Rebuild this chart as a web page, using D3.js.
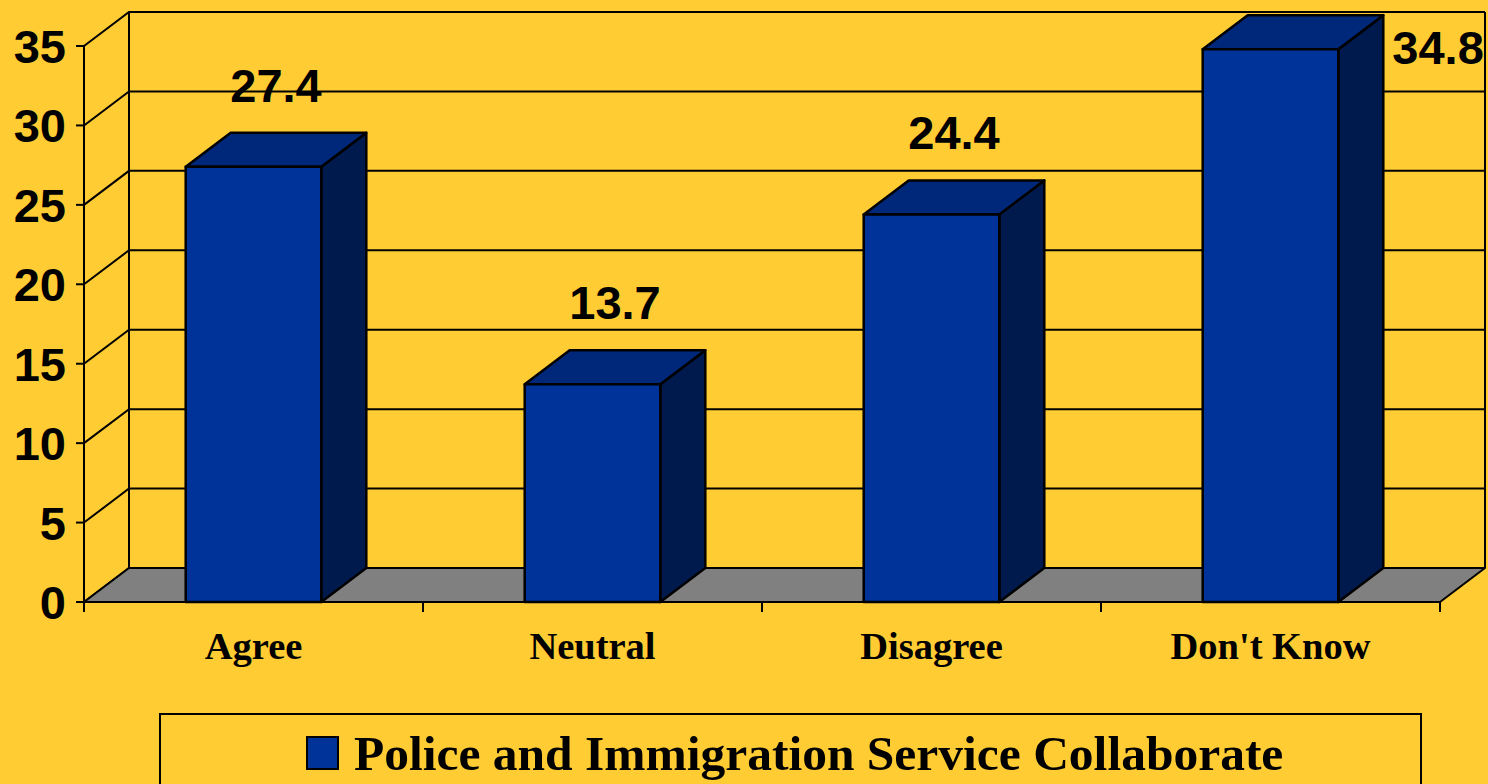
<!DOCTYPE html>
<html>
<head>
<meta charset="utf-8">
<script src="https://d3js.org/d3.v7.min.js"></script>
<style>
  html, body { margin: 0; padding: 0; background: #ffcc33; overflow: hidden; }
  svg { display: block; }
</style>
</head>
<body>
<script>
    const categories = ['Agree', 'Neutral', 'Disagree', "Don't Know"];
    const values = [27.4, 13.7, 24.4, 34.8];
    const yTicks = [0, 5, 10, 15, 20, 25, 30, 35];
    const seriesName = 'Police and Immigration Service Collaborate';

    const width = 1488, height = 784;
    const DX = 45, DY = -34;   // 3d depth offset

    const svg = d3.select('body').append('svg')
        .attr('width', width)
        .attr('height', height);

    svg.append('rect').attr('width', width).attr('height', height).attr('fill', '#ffcc33');

    const x = d3.scaleBand()
        .domain(categories)
        .range([84, 1440])
        .paddingInner(0.6)
        .paddingOuter(0.3);

    const y = d3.scaleLinear().domain([0, 35]).range([602, 46]);

    const x0 = x.range()[0], x1 = x.range()[1];
    const line = d3.line();

    // walls: grid lines on back wall + diagonals on left wall
    const walls = svg.append('g').attr('stroke', '#000').attr('stroke-width', 2).attr('fill', 'none');
    yTicks.forEach(t => {
        walls.append('path').attr('d', line([[x0, y(t)], [x0 + DX, y(t) + DY], [x1 + DX, y(t) + DY]]));
    });
    walls.append('path').attr('d', line([[x0 + DX, y(35) + DY], [x0 + DX, y(0) + DY]]));
    walls.append('path').attr('d', line([[x1 + DX, y(35) + DY], [x1 + DX, y(0) + DY]]));

    // floor
    svg.append('path')
        .attr('d', line([[x0, y(0)], [x1, y(0)], [x1 + DX, y(0) + DY], [x0 + DX, y(0) + DY]]) + 'Z')
        .attr('fill', '#808080')
        .attr('stroke', '#000')
        .attr('stroke-width', 2)
        .attr('stroke-linejoin', 'round');

    // y axis
    const yAxis = svg.append('g').attr('stroke', '#000').attr('stroke-width', 2);
    yAxis.append('line').attr('x1', x0).attr('x2', x0).attr('y1', y(35)).attr('y2', y(0));
    yAxis.selectAll('.tick')
        .data(yTicks)
        .join('line')
        .attr('x1', x0 - 8).attr('x2', x0)
        .attr('y1', d => y(d)).attr('y2', d => y(d));

    svg.append('g')
        .selectAll('text')
        .data(yTicks)
        .join('text')
        .attr('x', 66)
        .attr('y', d => y(d) + 17)
        .attr('text-anchor', 'end')
        .attr('font-family', '"Liberation Sans", Arial, sans-serif')
        .attr('font-weight', 'bold')
        .attr('font-size', 47)
        .attr('fill', '#000')
        .text(d => d);

    // x ticks
    const step = x.step();
    const xTickPos = d3.range(categories.length + 1).map(i => x0 + i * step);
    svg.append('g')
        .selectAll('line')
        .data(xTickPos)
        .join('line')
        .attr('x1', d => d).attr('x2', d => d)
        .attr('y1', y(0)).attr('y2', y(0) + 10)
        .attr('stroke', '#000')
        .attr('stroke-width', 2);

    // bars
    const data = categories.map((c, i) => ({ c, v: values[i] }));
    const bars = svg.append('g')
        .selectAll('g')
        .data(data)
        .join('g')
        .attr('stroke', '#000')
        .attr('stroke-width', 2.5)
        .attr('stroke-linejoin', 'round');

    bars.append('path') // side
        .attr('fill', '#001a4d')
        .attr('d', d => {
            const r = x(d.c) + x.bandwidth();
            return line([[r, y(d.v)], [r + DX, y(d.v) + DY], [r + DX, y(0) + DY], [r, y(0)]]) + 'Z';
        });
    bars.append('path') // top
        .attr('fill', '#00287a')
        .attr('d', d => {
            const l = x(d.c), r = l + x.bandwidth();
            return line([[l, y(d.v)], [l + DX, y(d.v) + DY], [r + DX, y(d.v) + DY], [r, y(d.v)]]) + 'Z';
        });
    bars.append('rect') // front
        .attr('fill', '#003399')
        .attr('x', d => x(d.c))
        .attr('y', d => y(d.v))
        .attr('width', x.bandwidth())
        .attr('height', d => y(0) - y(d.v));

    // value labels
    svg.append('g')
        .selectAll('text')
        .data(data)
        .join('text')
        .each(function (d) {
            const t = d3.select(this);
            const base = y(d.v) + DY - 31;
            if (base < 40) {
                t.attr('x', x(d.c) + x.bandwidth() + DX + 9)
                 .attr('y', y(d.v) + 15)
                 .attr('text-anchor', 'start');
            } else {
                t.attr('x', x(d.c) + x.bandwidth() / 2 + DX / 2)
                 .attr('y', base)
                 .attr('text-anchor', 'middle');
            }
        })
        .attr('font-family', '"Liberation Sans", Arial, sans-serif')
        .attr('font-weight', 'bold')
        .attr('font-size', 47)
        .attr('fill', '#000')
        .text(d => d.v.toFixed(1));

    // category labels
    svg.append('g')
        .selectAll('text')
        .data(categories)
        .join('text')
        .attr('x', d => x(d) + x.bandwidth() / 2)
        .attr('y', 659)
        .attr('text-anchor', 'middle')
        .attr('font-family', '"Liberation Serif", "Times New Roman", serif')
        .attr('font-weight', 'bold')
        .attr('font-size', 38.5)
        .attr('fill', '#000')
        .text(d => d);

    // legend
    const legend = svg.append('g');
    legend.append('rect')
        .attr('x', 160).attr('y', 714)
        .attr('width', 1261).attr('height', 120)
        .attr('fill', 'none')
        .attr('stroke', '#000')
        .attr('stroke-width', 2);
    legend.append('rect')
        .attr('x', 307).attr('y', 737)
        .attr('width', 31).attr('height', 32)
        .attr('fill', '#003399')
        .attr('stroke', '#000')
        .attr('stroke-width', 2);
    legend.append('text')
        .attr('x', 354).attr('y', 770)
        .attr('font-family', '"Liberation Serif", "Times New Roman", serif')
        .attr('font-weight', 'bold')
        .attr('font-size', 49.5)
        .attr('fill', '#000')
        .text(seriesName);
</script>
</body>
</html>
